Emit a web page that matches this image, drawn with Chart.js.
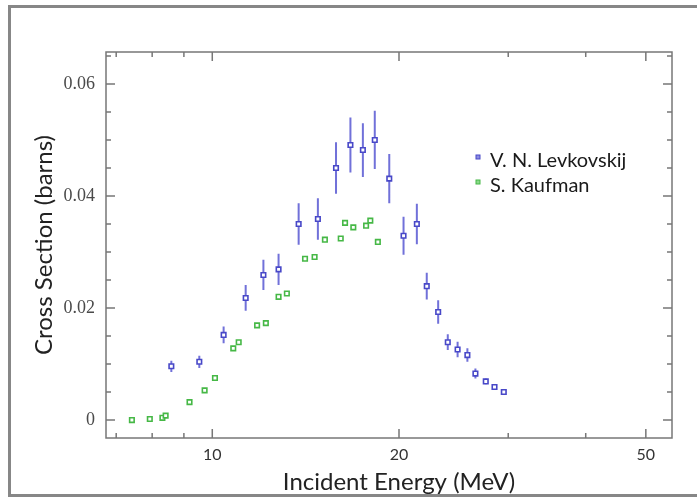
<!DOCTYPE html>
<html>
<head>
<meta charset="utf-8">
<script src="https://cdn.jsdelivr.net/npm/chart.js@4/dist/chart.umd.min.js"></script>
<style>
  html, body { margin: 0; padding: 0; background: #fff; }
  #wrap { position: relative; width: 697px; height: 500px; overflow: hidden; }
  #frame { position: absolute; left: 8px; top: 5px; width: 720px; height: 492px; box-sizing: border-box; border: 3px solid #878787; border-right: none; }
  canvas { position: absolute; left: 0; top: 0; }
</style>
</head>
<body>
<div id="wrap">
  <div id="frame"></div>
  <canvas id="chart" width="697" height="500"></canvas>
</div>
<script>
// V. N. Levkovskij (con barre d'errore)
const levkEnergy = [8.59, 9.53, 10.43, 11.32, 12.09, 12.79, 13.78, 14.80, 15.83, 16.70, 17.49, 18.28,
  19.29, 20.34, 21.37, 22.17, 23.13, 23.97, 24.86, 25.78, 26.56, 27.60, 28.51, 29.51];
const levkSigma = [0.0096, 0.0104, 0.0152, 0.0218, 0.0259, 0.0269, 0.0350, 0.0359, 0.0450, 0.0491, 0.0482, 0.0500,
  0.0431, 0.0329, 0.0350, 0.0239, 0.0193, 0.0139, 0.0126, 0.0116, 0.0083, 0.0069, 0.0059, 0.0050];
const levkError = [0.0010, 0.0011, 0.0015, 0.0023, 0.0027, 0.0028, 0.0037, 0.0037, 0.0046, 0.0049, 0.0048, 0.0052,
  0.0044, 0.0034, 0.0036, 0.0024, 0.0021, 0.0014, 0.0014, 0.0012, 0.0009, 0.0005, 0.0004, 0.0004];

// S. Kaufman
const kaufEnergy = [7.42, 7.93, 8.31, 8.41, 9.19, 9.72, 10.10, 10.81, 11.03, 11.81, 12.20, 12.79,
  13.19, 14.11, 14.62, 15.19, 16.11, 16.37, 16.88, 17.70, 17.98, 18.49];
const kaufSigma = [0.0000, 0.0002, 0.0004, 0.0008, 0.0032, 0.0053, 0.0075, 0.0128, 0.0139, 0.0169, 0.0173, 0.0220,
  0.0226, 0.0288, 0.0291, 0.0322, 0.0324, 0.0352, 0.0344, 0.0347, 0.0356, 0.0318];

// tacche degli assi
const xTicks = [7, 8, 9, 10, 20, 30, 40, 50];
const xLabels = [10, 20, 50];
const yTicks = [0, 0.005, 0.01, 0.015, 0.02, 0.025, 0.03, 0.035, 0.04, 0.045, 0.05, 0.055, 0.06, 0.065];
const yLabels = [0, 0.02, 0.04, 0.06];
const xTitle = 'Incident Energy (MeV)';

const blue = '#4848c8';
const green = '#46b846';
const sansFont = 'Lato, "Open Sans", sans-serif';

// Cornice del grafico con tacche interne su tutti i lati
const axisFrame = {
  id: 'axisFrame',
  afterDraw(chart) {
    const { ctx, chartArea: a, scales: { x, y } } = chart;
    ctx.save();
    ctx.strokeStyle = '#777';
    ctx.lineWidth = 1.5;
    ctx.strokeRect(a.left, a.top, a.right - a.left, a.bottom - a.top);
    ctx.beginPath();
    x.ticks.forEach(t => {
      const px = x.getPixelForValue(t.value);
      const len = xLabels.includes(t.value) ? 9 : 5;
      ctx.moveTo(px, a.bottom); ctx.lineTo(px, a.bottom - len);
      ctx.moveTo(px, a.top); ctx.lineTo(px, a.top + len);
    });
    y.ticks.forEach(t => {
      const py = y.getPixelForValue(t.value);
      const len = yLabels.includes(t.value) ? 9 : 5;
      ctx.moveTo(a.left, py); ctx.lineTo(a.left + len, py);
      ctx.moveTo(a.right, py); ctx.lineTo(a.right - len, py);
    });
    ctx.stroke();

    // titolo asse x, centrato sotto il 20 come nell'originale
    ctx.font = '24px ' + sansFont;
    ctx.fillStyle = '#222';
    ctx.textAlign = 'center';
    ctx.textBaseline = 'middle';
    ctx.fillText(xTitle, x.getPixelForValue(20), 482);
    ctx.restore();
  }
};

// Barre d'errore per Levkovskij
const errorBars = {
  id: 'errorBars',
  beforeDatasetsDraw(chart) {
    const { ctx, scales: { x, y } } = chart;
    ctx.save();
    ctx.strokeStyle = 'rgba(88, 88, 210, 0.85)';
    ctx.lineWidth = 2;
    ctx.beginPath();
    levkEnergy.forEach((e, i) => {
      const px = x.getPixelForValue(e);
      ctx.moveTo(px, y.getPixelForValue(levkSigma[i] - levkError[i]));
      ctx.lineTo(px, y.getPixelForValue(levkSigma[i] + levkError[i]));
    });
    ctx.stroke();
    ctx.restore();
  }
};

// Legenda dentro l'area del grafico
const insideLegend = {
  id: 'insideLegend',
  afterDraw(chart) {
    const { ctx } = chart;
    const fills = ['#8c8ce0', '#8ad88a'];
    ctx.save();
    ctx.font = '20px ' + sansFont;
    ctx.textBaseline = 'middle';
    chart.data.datasets.forEach((ds, i) => {
      const y0 = 161 + i * 25;
      ctx.fillStyle = fills[i];
      ctx.strokeStyle = ds.borderColor;
      ctx.lineWidth = 1;
      ctx.fillRect(476, y0 - 6, 4, 4);
      ctx.strokeRect(476, y0 - 6, 4, 4);
      ctx.fillStyle = '#1a1a1a';
      ctx.fillText(ds.label, 490, y0);
    });
    ctx.restore();
  }
};

new Chart(document.getElementById('chart'), {
  type: 'scatter',
  data: {
    datasets: [
      {
        label: 'V. N. Levkovskij',
        data: levkEnergy.map((e, i) => ({ x: e, y: levkSigma[i] })),
        borderColor: blue,
        backgroundColor: '#fff',
        pointStyle: 'rect',
        pointRadius: 3.2,
        borderWidth: 1.6
      },
      {
        label: 'S. Kaufman',
        data: kaufEnergy.map((e, i) => ({ x: e, y: kaufSigma[i] })),
        borderColor: green,
        backgroundColor: '#fff',
        pointStyle: 'rect',
        pointRadius: 3.2,
        borderWidth: 1.6
      }
    ]
  },
  options: {
    responsive: false,
    animation: false,
    layout: { padding: { top: 52, right: 25, left: 0, bottom: 0 } },
    plugins: { legend: { display: false }, tooltip: { enabled: false } },
    scales: {
      x: {
        type: 'logarithmic',
        min: 6.74,
        max: 55.1,
        afterBuildTicks: s => { s.ticks = xTicks.map(v => ({ value: v })); },
        afterFit: s => { s.height = 62; },
        grid: { display: false, drawTicks: false },
        border: { display: false },
        ticks: {
          autoSkip: false, maxRotation: 0, padding: 7, color: '#333',
          font: { family: sansFont, size: 16 },
          callback: v => (xLabels.includes(v) ? String(v) : '')
        }
      },
      y: {
        min: -0.0032,
        max: 0.0657,
        afterBuildTicks: s => { s.ticks = yTicks.map(v => ({ value: v })); },
        afterFit: s => { s.width = 106; },
        grid: { display: false, drawTicks: false },
        border: { display: false },
        ticks: {
          autoSkip: false, padding: 11, color: '#4a4a4a',
          font: { family: '"Liberation Serif", serif', size: 18 },
          callback: v => (yLabels.includes(v) ? String(v) : '')
        },
        title: {
          display: true, text: 'Cross Section (barns)', color: '#222',
          font: { family: sansFont, size: 24 }, padding: { top: 30, bottom: 0 }
        }
      }
    }
  },
  plugins: [axisFrame, errorBars, insideLegend]
});
</script>
</body>
</html>
